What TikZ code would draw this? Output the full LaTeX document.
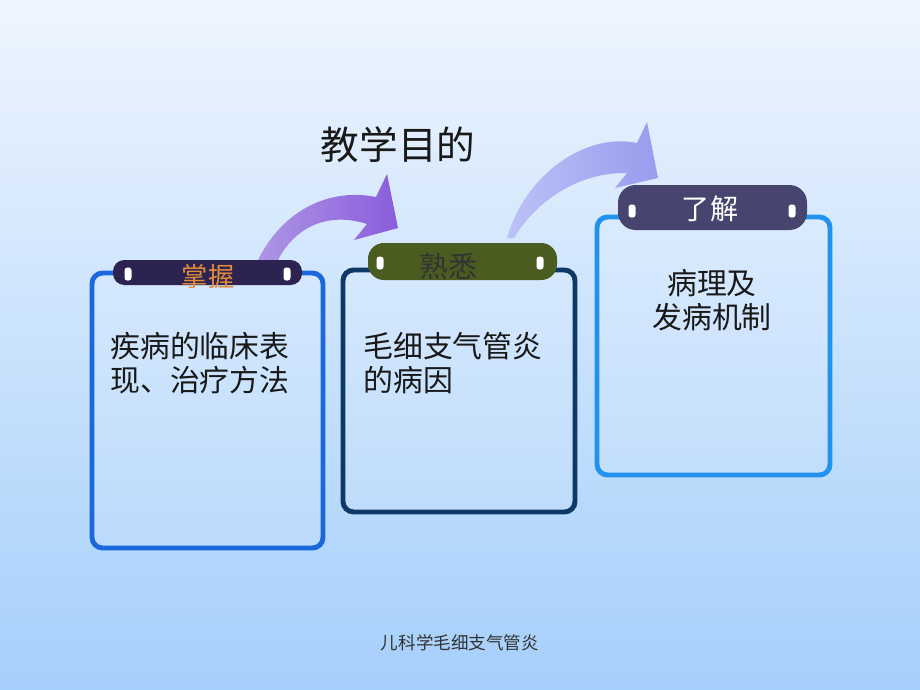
\documentclass[tikz,border=0pt]{standalone}
\usepackage{fontspec}
\setmainfont{Noto Sans CJK SC}
\usetikzlibrary{positioning}
\definecolor{bgtop}{HTML}{EEF5FE}
\definecolor{bgbot}{HTML}{A5CFFB}
\definecolor{frameone}{HTML}{1A68DC}
\definecolor{frametwo}{HTML}{0E3866}
\definecolor{framethree}{HTML}{2193EE}
\definecolor{tabone}{HTML}{2D2350}
\definecolor{tabtwo}{HTML}{4A5C1F}
\definecolor{tabthree}{HTML}{47456F}
\definecolor{tabtxtone}{HTML}{E08A3C}
\definecolor{arrowonea}{HTML}{AE96E6}
\definecolor{arrowoneb}{HTML}{8A5CDB}
\definecolor{arrowtwoa}{HTML}{BCC2F6}
\definecolor{arrowtwob}{HTML}{979CEE}
\def\tabhole(#1,#2){\draw[fill=white, draw=none, rounded corners=1.6pt] (#1-3.5,#2-6.5) rectangle (#1+3.5,#2+6.5);}

\begin{document}
\begin{tikzpicture}[x=0.02cm, y=-0.02cm,
  card/.style={line width=2.8pt, rounded corners=6pt},
  tabtext/.style={inner sep=0pt, font=\fontsize{15pt}{17pt}\selectfont},
  bodytext/.style={inner sep=0pt, align=left, text=black!90, font=\fontsize{17pt}{19.5pt}\selectfont}]
	%%%%% START %%%%%
	
	\useasboundingbox (0,0) rectangle (920,690);
	\shade[top color=bgtop, bottom color=bgbot] (0,0) rectangle (920,690);
	
	\node[inner sep=0pt, font=\fontsize{22pt}{24pt}\selectfont, text=black!90] (title) at (398,145) {教学目的};
	
	% curved arrows
	\shade[left color=arrowonea, right color=arrowoneb, draw=none]
		(257,262) .. controls (280,214) and (325,187) .. (376,197) -- (387,174) -- (398,228) -- (354,240) -- (367,224) .. controls (330,212) and (295,225) .. (277,262) -- cycle;
	\shade[left color=arrowtwoa, right color=arrowtwob, draw=none]
		(507,238) .. controls (525,175) and (585,132) .. (637,143) -- (647,122) -- (658,178) -- (615,188) -- (627,173) .. controls (585,172) and (540,195) .. (514,238) -- cycle;
	
	% card one
	\draw[card, draw=frameone, fill=white, fill opacity=0.1] (92,273) rectangle (323,548);
	\draw[fill=tabone, draw=none, rounded corners=6.5pt] (113,260) rectangle (302,285);
	\tabhole(128,274)
	\tabhole(287,274)
	\node[tabtext, text=tabtxtone] (zhangwo) at (208,276) {掌握};
	\node[bodytext, anchor=north west] (bodyone) at (110,332) {疾病的临床表\\现、治疗方法};
	
	% card two
	\draw[card, draw=frametwo, fill=white, fill opacity=0.1] (343,270) rectangle (575,512);
	\draw[fill=tabtwo, draw=none, rounded corners=9pt] (368,243) rectangle (557,280);
	\tabhole(380,263)
	\tabhole(540,263)
	\node[tabtext, text=black!80, font=\fontsize{16.5pt}{18pt}\selectfont] (shuxi) at (448,266) {熟悉};
	\node[bodytext, anchor=north west] (bodytwo) at (363,332) {毛细支气管炎\\的病因};
	
	% card three
	\draw[card, draw=framethree, fill=white, fill opacity=0.1] (597,217) rectangle (830,475);
	\draw[fill=tabthree, draw=none, rounded corners=10pt] (618,185) rectangle (807,230);
	\tabhole(632,211)
	\tabhole(792,211)
	\node[tabtext, text=white, font=\fontsize{16pt}{18pt}\selectfont] (liaojie) at (710,209) {了解};
	\node[bodytext, align=center, anchor=north] (bodythree) at (712,269) {病理及\\发病机制};
	
	\node[inner sep=0pt, font=\fontsize{10pt}{12pt}\selectfont, text=black!80] (footer) at (460,643) {儿科学毛细支气管炎};
	
	%%%%% END %%%%%
\end{tikzpicture}
\end{document}
